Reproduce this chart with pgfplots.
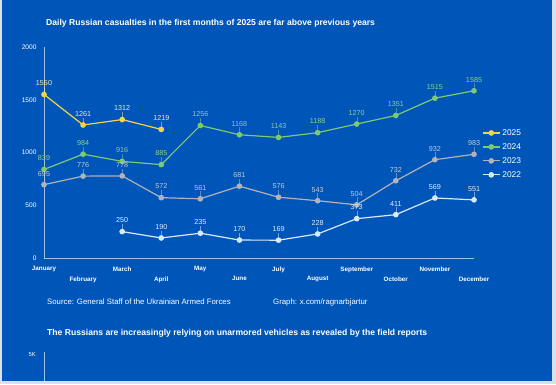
\documentclass[border=0pt]{standalone}
\usepackage{pgfplots}
\pgfplotsset{compat=1.18}
\usepackage{fontspec}
\setmainfont{Liberation Sans}
\definecolor{bg}{RGB}{0,86,184}
\definecolor{edge}{RGB}{215,225,238}
\definecolor{c25}{RGB}{246,212,72}
\definecolor{c24}{RGB}{125,200,112}
\definecolor{c23}{RGB}{178,178,184}
\definecolor{c22}{RGB}{215,232,255}
\definecolor{l25}{RGB}{245,235,175}
\definecolor{l24}{RGB}{140,210,130}
\definecolor{l23}{RGB}{195,200,210}
\definecolor{l22}{RGB}{225,236,252}
\definecolor{axc}{RGB}{160,195,238}
\begin{document}
\begin{tikzpicture}[x=1pt,y=1pt]
\fill[edge] (0,0) rectangle (556,384);
\fill[bg] (2,3) rectangle (552,384);
\node[anchor=west, font=\bfseries\fontsize{8.6}{10}\selectfont, text=white, inner sep=0] at (46,361) {Daily Russian casualties in the first months of 2025 are far above previous years};
\node[anchor=west, font=\fontsize{7.8}{9}\selectfont, text=white, inner sep=0] at (47,82) {Source: General Staff of the Ukrainian Armed Forces};
\node[anchor=west, font=\fontsize{7.8}{9}\selectfont, text=white, inner sep=0] at (273,82) {Graph: x.com/ragnarbjartur};
\node[anchor=west, font=\bfseries\fontsize{8.6}{10}\selectfont, text=white, inner sep=0] at (47,51) {The Russians are increasingly relying on unarmored vehicles as revealed by the field reports};
\node[anchor=east, font=\fontsize{5.8}{6}\selectfont, text=white, inner sep=0] at (36,29) {5K};
\draw[axc, line width=0.7pt] (44,32) -- (44,3);
\begin{axis}[
  at={(44pt,126pt)}, anchor=south west, scale only axis,
  width=430pt, height=211pt,
  xmin=0, xmax=11, ymin=0, ymax=2000,
  clip=false,
  axis lines*=left,
  axis line style={axc, line width=0.7pt},
  major tick length=0pt,
  /pgf/number format/assume math mode=true,
  /pgf/number format/1000 sep={},
  ytick={0,500,1000,1500,2000},
  yticklabel style={text=white, font=\fontsize{6.6}{7}\selectfont, xshift=-4pt},
  xtick={0,2,4,6,8,10},
  xticklabels={January,March,May,July,September,November},
  extra x ticks={1,3,5,7,9,11},
  extra x tick labels={February,April,June,August,October,December},
  extra x tick style={xticklabel style={yshift=-10pt}},
  xticklabel style={text=white, font=\bfseries\fontsize{6.3}{7}\selectfont, yshift=-5pt},
  nodes near coords,
  every node near coord/.append style={font=\fontsize{7.2}{8}\selectfont, anchor=south, inner sep=0.5pt, yshift=7.5pt},
  error bars/y dir=plus, error bars/y fixed=70, error bars/error mark=none,
  legend style={at={(1.0,0.63)}, anchor=north west, xshift=5pt, draw=none, fill=none, text=white, font=\fontsize{8.4}{9}\selectfont, row sep=2.6pt, cells={anchor=west}},
  legend image code/.code={\draw[#1] (0pt,0pt) -- (17pt,0pt); \draw[#1, mark repeat=1] plot coordinates {(8.5pt,0pt)};},
]
\addplot[c25, line width=1.2pt, mark=*, mark size=2.2pt, every node near coord/.append style={text=l25}, error bars/error bar style={l25, line width=0.3pt, solid, opacity=0.5}] coordinates {(0,1550)(1,1261)(2,1312)(3,1219)};
\addlegendentry{2025}
\addplot[c24, line width=1.2pt, mark=*, mark size=2.2pt, every node near coord/.append style={text=l24}, error bars/error bar style={l24, line width=0.3pt, solid, opacity=0.5}] coordinates {(0,839)(1,984)(2,916)(3,885)(4,1256)(5,1168)(6,1143)(7,1188)(8,1270)(9,1351)(10,1515)(11,1585)};
\addlegendentry{2024}
\addplot[c23, line width=1.2pt, mark=*, mark size=2.2pt, every node near coord/.append style={text=l23}, error bars/error bar style={l23, line width=0.3pt, solid, opacity=0.5}] coordinates {(0,695)(1,776)(2,778)(3,572)(4,561)(5,681)(6,576)(7,543)(8,504)(9,732)(10,932)(11,983)};
\addlegendentry{2023}
\addplot[c22, line width=1.2pt, mark=*, mark size=2.2pt, every node near coord/.append style={text=l22}, error bars/error bar style={l22, line width=0.3pt, solid, opacity=0.5}] coordinates {(2,250)(3,190)(4,235)(5,170)(6,169)(7,228)(8,373)(9,411)(10,569)(11,551)};
\addlegendentry{2022}
\end{axis}
\pgfresetboundingbox
\path (0,0) rectangle (556,384);
\end{tikzpicture}
\end{document}
